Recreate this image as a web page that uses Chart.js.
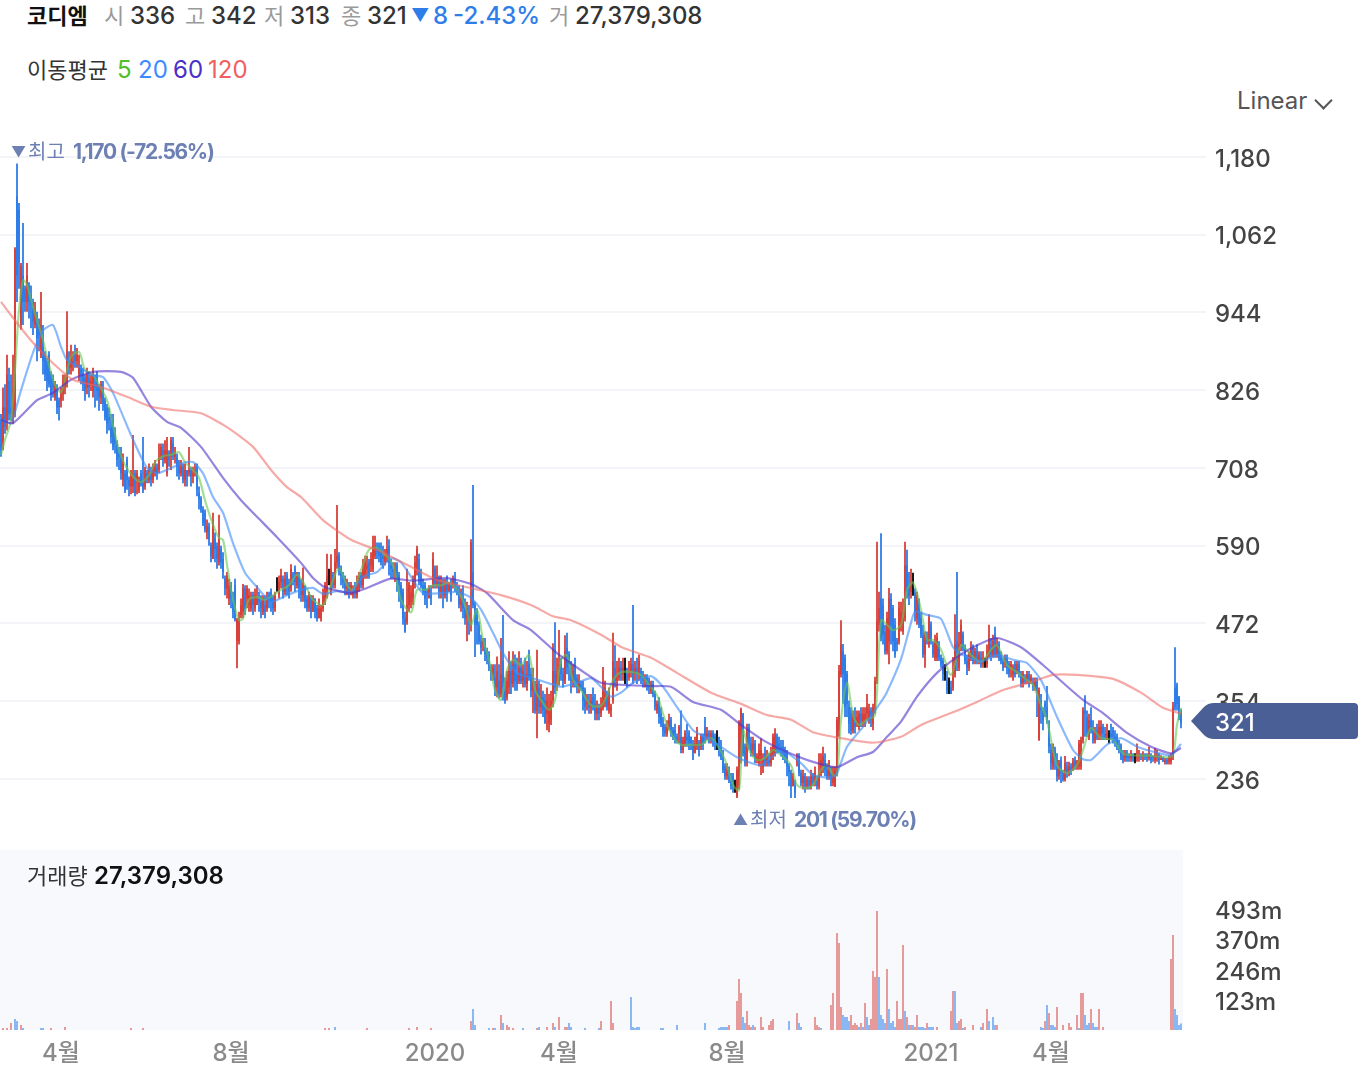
<!DOCTYPE html>
<html lang="ko">
<head>
<meta charset="utf-8">
<title>코디엠</title>
<script src="https://cdn.jsdelivr.net/npm/chart.js@4/dist/chart.umd.js"></script>
<style>
  html, body { margin: 0; padding: 0; background: #fff; }
  body { width: 1366px; height: 1074px; position: relative; overflow: hidden;
         font-family: Inter, "Noto Sans CJK KR", sans-serif; font-size: 24px; color: #333; }
  canvas { position: absolute; left: 0; }
  .t { position: absolute; white-space: nowrap; line-height: 30px; font-weight: 500; z-index: 2; }
  .k { font-size: 22px; }
  .g { color: #9a9a9a; font-weight: 400; font-size: 22px; }
  .b { color: #2f7de8; }
  .mark { color: #6d80b4; font-size: 20px; font-weight: 400; }
  .markv { color: #6d80b4; font-size: 21px; font-weight: 700; letter-spacing: -1.3px; }
  #chev { position: absolute; left: 1317px; top: 94px; width: 11px; height: 11px;
          border-right: 2px solid #555; border-bottom: 2px solid #555; transform: rotate(45deg); }
</style>
</head>
<body>
<span class="t k" style="left:27px;top:1px;color:#111;font-weight:700">코디엠</span>
<span class="t g" style="left:104px;top:1px">시</span><span class="t" style="left:130px;top:1px">336</span>
<span class="t g" style="left:185px;top:1px">고</span><span class="t" style="left:211px;top:1px">342</span>
<span class="t g" style="left:264px;top:1px">저</span><span class="t" style="left:290px;top:1px">313</span>
<span class="t g" style="left:341px;top:1px">종</span><span class="t" style="left:367px;top:1px">321</span>
<span class="t b" style="left:411px;top:1px;font-size:18px">▼</span><span class="t b" style="left:433px;top:1px">8</span>
<span class="t b" style="left:453px;top:1px">-2.43%</span>
<span class="t g" style="left:549px;top:1px">거</span><span class="t" style="left:575px;top:1px">27,379,308</span>

<span class="t k" style="left:27px;top:55px;font-weight:400">이동평균</span>
<span class="t" style="left:117px;top:55px;font-weight:400;color:#4fbf2a">5</span>
<span class="t" style="left:138px;top:55px;font-weight:400;color:#3b8cff">20</span>
<span class="t" style="left:173px;top:55px;font-weight:400;color:#4a2fc8">60</span>
<span class="t" style="left:208px;top:55px;font-weight:400;color:#f06060">120</span>

<span class="t" style="left:1237px;top:86px;font-weight:400;color:#555">Linear</span>
<div id="chev"></div>

<span class="t mark" style="left:11px;top:137px;font-size:15px">▼</span>
<span class="t mark" style="left:28px;top:137px">최고</span>
<span class="t markv" style="left:73px;top:137px">1,170 (-72.56%)</span>
<span class="t mark" style="left:733px;top:805px;font-size:15px">▲</span>
<span class="t mark" style="left:750px;top:805px">최저</span>
<span class="t markv" style="left:794px;top:805px">201 (59.70%)</span>

<span class="t k" style="left:27px;top:861px;font-weight:400">거래량</span>
<span class="t" style="left:94px;top:861px;color:#111;font-weight:600">27,379,308</span>

<canvas id="price-chart" width="1366" height="700" style="top:140px"></canvas>
<canvas id="volume-chart" width="1366" height="224" style="top:850px"></canvas>

<script>
const priceTicks = [1180, 1062, 944, 826, 708, 590, 472, 354, 236];
const volumeTicks = [123, 246, 370, 493];
const monthDays = [30, 115, 217, 279, 363, 465, 525];
const monthLabels = ['4월', '8월', '2020', '4월', '8월', '2021', '4월'];
const lastClose = 321;

// one line = 10 trading days
const opens = [
  780,745,800,780,840,800,780,790,1120,1100,
  925,1000,980,960,985,970,960,925,940,930,
  880,905,880,870,880,850,845,815,830,810,
  810,820,830,840,870,860,865,880,870,850,
  860,850,845,830,845,835,825,835,850,830,
  815,825,810,800,785,770,780,760,745,730,
  730,690,700,720,690,680,680,700,690,675,
  700,685,680,700,690,700,690,700,710,705,
  725,735,720,700,730,725,745,725,725,715,
  700,710,690,705,700,705,695,700,710,670,
  660,645,640,610,620,590,570,600,590,565,
  585,570,540,525,510,530,505,530,445,445,
  485,490,525,510,500,495,515,495,500,510,
  505,490,500,495,515,520,510,495,530,515,
  535,540,520,545,535,525,545,555,530,545,
  525,515,530,510,495,515,490,510,495,480,
  480,495,505,520,540,525,545,530,565,575,
  555,545,540,525,530,520,515,530,515,525,
  545,530,545,555,565,560,555,575,585,590,
  580,575,565,570,590,560,555,545,560,545,
  530,520,480,475,500,505,510,530,555,570,
  545,530,530,520,510,515,530,555,530,540,
  520,535,515,535,520,530,530,540,525,520,
  500,510,495,480,490,525,550,500,485,470,
  445,440,440,430,425,405,395,390,375,385,
  365,415,370,360,375,400,380,410,395,385,
  405,385,395,380,410,395,370,370,340,375,
  345,360,355,335,320,325,355,400,380,385,
  410,395,385,435,425,405,385,405,390,375,
  380,375,370,350,355,345,360,350,335,345,
  335,345,350,365,340,340,355,405,385,390,
  405,395,395,395,390,400,410,395,405,395,
  400,395,385,390,385,370,380,365,340,355,
  335,320,315,305,315,325,310,310,300,305,
  300,280,290,300,305,300,290,275,285,290,
  285,300,315,300,305,295,305,300,295,290,
  285,270,255,240,250,235,240,225,210,225,
  265,335,285,260,315,290,280,290,265,260,
  265,255,275,260,265,260,270,275,300,290,
  285,285,280,275,255,245,225,225,260,265,
  245,230,240,225,235,225,240,230,235,225,
  245,255,265,250,240,245,230,225,245,310,
  395,430,420,395,345,340,310,330,320,315,
  335,320,320,335,325,340,320,340,385,470,
  510,500,460,430,445,510,495,470,445,445,
  470,460,480,560,530,520,530,520,480,505,
  480,455,425,450,440,470,440,420,420,440,
  420,415,395,385,375,375,375,395,445,405,
  440,455,435,415,405,420,435,415,430,415,
  420,410,415,410,425,440,425,455,425,440,
  425,415,410,420,410,405,395,410,400,410,
  395,380,390,385,395,385,385,375,385,295,
  355,340,350,345,315,280,255,280,265,240,
  265,245,235,255,245,255,250,265,255,255,
  255,295,340,330,300,325,310,295,310,300,
  305,315,305,300,300,305,310,300,300,285,
  285,270,268,275,272,268,272,270,268,270,
  272,270,272,270,268,272,270,265,268,272,
  265,268,262,265,262,262,270,375,378,360,
  336
];
const closes = [
  735,800,770,850,790,790,830,1040,1000,1020,
  1015,960,960,1000,960,955,930,950,905,905,
  925,870,850,840,835,820,830,835,800,800,
  820,840,845,885,860,880,870,870,880,860,
  850,835,825,850,830,840,850,830,825,815,
  835,805,785,775,780,755,740,745,720,725,
  700,720,675,690,680,700,695,670,700,690,
  685,675,705,690,705,690,705,710,700,725,
  740,720,735,735,720,750,725,730,710,700,
  710,690,705,695,705,695,700,705,675,660,
  645,625,615,620,600,575,625,585,570,600,
  565,550,525,545,530,510,490,478,480,478,
  500,525,495,525,515,510,500,515,510,505,
  495,510,490,510,505,505,495,515,530,535,
  545,520,540,530,520,555,540,535,545,525,
  515,535,505,495,515,490,510,490,480,495,
  495,515,530,545,540,555,530,565,575,555,
  545,535,525,530,520,530,520,520,530,545,
  530,555,565,560,545,570,590,590,580,575,
  565,570,575,585,565,555,550,555,540,530,
  505,480,460,500,530,520,540,565,585,540,
  530,520,510,515,525,510,570,530,540,520,
  535,515,530,520,530,515,540,525,520,500,
  510,495,480,495,470,595,500,470,470,445,
  435,445,425,420,405,395,405,375,400,365,
  395,375,355,385,400,380,410,385,380,405,
  385,400,380,395,390,370,385,340,380,345,
  360,340,320,355,345,355,400,375,395,410,
  395,385,430,405,410,385,400,385,375,385,
  375,355,345,360,345,355,345,335,345,335,
  345,375,375,345,365,345,415,385,395,405,
  395,405,395,385,400,410,385,405,395,415,
  390,385,390,380,375,380,365,345,350,330,
  320,310,305,315,325,310,300,305,295,315,
  280,295,305,295,290,290,275,290,305,280,
  300,290,300,305,300,305,295,290,295,280,
  270,250,240,250,235,225,225,225,250,320,
  340,275,260,310,290,275,290,265,270,280,
  280,265,260,270,260,275,300,305,280,285,
  280,275,270,255,245,225,240,215,265,245,
  230,240,225,235,225,240,230,245,225,245,
  265,270,250,240,255,235,245,250,325,400,
  440,395,345,350,320,310,335,315,330,335,
  325,335,335,345,340,325,345,385,475,495,
  450,455,430,480,510,470,445,425,440,495,
  490,480,560,520,515,535,530,490,515,470,
  455,425,455,445,480,445,425,445,450,420,
  410,395,395,370,375,365,390,440,415,440,
  470,435,415,405,425,435,415,430,415,425,
  410,420,415,430,450,425,445,425,440,420,
  415,405,420,405,395,410,405,395,410,395,
  380,395,385,395,380,390,375,385,370,370,
  340,325,345,325,285,260,285,265,240,260,
  245,235,260,245,255,250,262,255,262,290,
  295,340,335,305,325,310,295,310,300,315,
  315,305,300,305,300,300,300,295,285,280,
  270,265,275,268,268,272,268,270,270,272,
  270,272,270,268,272,265,268,272,272,265,
  268,262,265,260,268,270,345,345,350,329,
  321
];
const highs = [
  790,830,835,880,860,850,880,1043,1170,1110,
  1019,1080,985,1019,990,985,965,960,945,935,
  975,925,885,875,885,855,850,840,835,815,
  830,850,850,946,885,895,885,895,890,880,
  865,860,850,860,855,850,860,850,855,835,
  840,840,815,805,800,790,790,770,750,740,
  740,730,705,725,695,705,758,705,705,695,
  705,755,710,705,715,710,715,720,715,745,
  745,745,750,755,735,755,755,740,730,720,
  720,715,715,705,740,710,710,715,715,680,
  665,650,645,630,625,595,640,610,595,637,
  590,580,545,550,540,535,520,540,480,490,
  510,532,530,530,525,520,520,525,530,520,
  515,515,515,520,520,525,515,520,542,545,
  555,545,550,550,540,562,550,560,550,550,
  540,557,520,515,520,515,515,510,500,510,
  500,525,535,578,555,577,550,585,652,580,
  560,550,545,540,535,535,530,535,545,550,
  550,570,575,575,570,580,605,605,595,595,
  595,590,585,605,600,570,565,565,565,550,
  535,525,490,555,535,530,545,575,590,578,
  555,540,535,525,530,530,580,560,560,545,
  545,540,540,545,535,540,545,550,535,530,
  525,530,510,505,500,600,682,505,495,475,
  455,450,450,435,430,410,410,410,422,410,
  450,485,390,400,430,415,430,425,420,430,
  420,410,420,415,432,405,405,385,432,385,
  380,370,365,375,365,370,442,474,420,462,
  420,405,454,458,430,415,410,420,395,395,
  385,385,375,365,365,365,375,365,355,350,
  360,406,385,370,375,350,458,439,415,420,
  415,420,420,405,415,420,500,415,420,425,
  405,400,395,395,390,385,385,370,355,360,
  345,330,320,325,335,330,315,320,305,318,
  340,300,310,320,310,300,295,300,315,295,
  305,305,330,315,310,310,310,305,310,300,
  295,280,260,260,255,245,245,235,255,325,
  344,336,290,320,320,300,300,295,275,290,
  298,275,285,280,275,285,305,313,305,300,
  295,295,285,280,260,250,245,235,275,275,
  250,250,245,240,240,250,245,255,240,275,
  275,285,275,260,265,255,255,255,330,409,
  477,441,425,400,355,345,340,345,340,340,
  345,345,345,365,350,345,350,391,596,520,
  609,510,470,490,526,518,500,480,450,505,
  505,510,596,584,550,555,549,525,520,510,
  490,470,460,460,486,475,445,455,458,445,
  425,420,410,400,390,385,421,486,550,459,
  478,460,440,425,430,445,440,435,440,430,
  430,430,420,440,470,450,455,467,450,445,
  430,420,425,425,415,415,410,415,415,415,
  400,400,395,400,400,395,390,390,390,375,
  365,345,355,377,325,290,290,285,275,265,
  270,250,271,262,262,260,268,270,265,295,
  300,345,363,340,335,345,325,315,320,325,
  325,320,315,320,310,320,315,310,305,295,
  290,280,280,280,275,280,275,275,290,280,
  275,278,275,275,285,275,272,283,280,275,
  272,270,268,268,272,275,353,436,382,362,
  342
];
const lows = [
  725,735,760,765,780,780,775,785,960,980,
  918,925,945,945,935,920,910,920,870,885,
  875,850,840,825,830,810,815,810,790,780,
  800,810,820,830,850,850,855,860,860,840,
  835,825,810,820,815,825,815,800,810,795,
  805,795,780,760,765,745,735,730,710,705,
  690,680,670,675,665,668,670,665,668,670,
  680,670,675,685,685,680,685,695,690,700,
  720,710,715,695,710,705,720,715,695,690,
  695,685,680,680,695,680,685,695,665,645,
  640,620,610,600,590,565,570,565,555,560,
  555,540,515,510,500,495,480,475,404,440,
  480,480,485,495,490,490,485,490,500,490,
  480,485,480,490,495,490,485,490,520,510,
  525,510,515,515,510,520,530,520,525,510,
  505,505,495,490,490,480,490,480,475,480,
  475,490,500,510,530,515,525,525,555,545,
  530,525,515,515,510,515,510,510,510,520,
  525,525,540,540,540,550,550,570,570,565,
  560,555,560,565,545,540,540,535,520,505,
  495,470,458,470,490,495,500,525,545,530,
  525,515,500,495,515,500,525,525,525,510,
  510,495,510,505,520,505,525,520,515,495,
  490,480,470,445,455,460,495,421,440,440,
  425,430,415,410,400,385,385,362,360,358,
  360,355,350,355,365,365,375,370,370,380,
  380,375,375,370,385,360,336,335,298,335,
  335,330,328,310,307,318,345,365,370,378,
  385,375,380,395,385,366,375,375,366,366,
  370,340,335,340,335,335,340,325,325,325,
  330,340,345,340,335,330,350,375,370,385,
  385,385,380,375,385,390,380,385,380,385,
  380,375,375,370,365,365,360,340,335,320,
  315,300,300,300,310,300,295,290,290,290,
  275,275,285,285,280,280,265,275,280,270,
  280,280,290,295,290,290,285,280,280,270,
  265,245,235,235,230,220,215,215,207,220,
  260,270,255,255,280,270,270,260,260,255,
  242,245,255,255,255,255,265,270,275,275,
  270,265,260,240,225,207,225,207,255,240,
  225,220,215,220,220,220,225,225,220,220,
  240,245,240,235,235,225,225,224,240,300,
  390,350,330,330,305,303,305,305,315,310,
  315,315,315,325,320,315,310,335,380,460,
  445,440,425,425,410,440,430,420,430,440,
  460,455,475,510,500,510,514,475,470,465,
  450,420,405,440,435,440,420,415,415,415,
  405,385,385,365,365,368,370,390,400,400,
  430,430,410,394,400,415,410,410,410,410,
  405,405,405,405,420,415,420,420,420,415,
  410,400,405,395,390,390,385,390,395,390,
  375,375,380,380,375,380,370,370,330,294,
  320,310,330,320,275,250,250,250,232,235,
  230,232,232,238,240,242,248,250,250,250,
  250,290,300,300,295,305,290,290,295,295,
  295,295,295,295,290,295,290,285,280,275,
  265,260,262,262,262,262,262,260,262,262,
  265,262,265,262,264,260,262,260,262,258,
  265,262,258,258,258,258,265,340,340,325,
  313
];

const ma5Days = [0,2,5,7,9,11,13,15,18,21,24,27,30,32,35,39,42,46,50,53,56,59,62,66,70,74,77,81,85,89,92,96,99,102,106,109,111,113,116,119,121,124,128,132,136,140,144,148,152,156,161,165,169,173,176,180,184,188,192,196,200,205,208,212,216,220,224,228,232,235,238,241,244,247,250,253,256,260,264,267,270,274,277,280,283,286,290,295,300,303,306,310,316,320,324,328,332,336,340,345,350,355,358,362,366,369,371,374,378,382,386,390,395,398,402,406,410,413,416,418,420,423,426,429,433,437,440,443,446,450,453,456,460,463,466,470,475,480,485,490,495,498,503,508,513,516,520,523,528,533,538,541,545,550,556,561,566,575,583,586,588,590];
const ma5Values = [728,751,781,857,948,993,986,963,933,902,864,834,823,842,877,884,857,849,829,811,773,735,713,695,687,697,717,726,728,732,717,705,693,659,622,602,599,561,508,477,480,508,512,508,515,523,530,546,530,508,500,530,556,530,523,553,584,587,576,561,508,489,523,523,530,530,534,523,500,470,493,447,417,371,356,401,417,409,424,371,356,341,356,417,424,386,371,348,347,363,386,398,398,394,379,363,326,300,288,288,288,298,288,265,227,219,310,280,265,268,280,272,257,227,222,227,250,257,242,242,326,382,333,318,326,333,477,470,462,470,523,534,493,447,447,432,394,439,424,414,432,439,409,398,386,379,348,325,257,245,257,280,313,298,295,275,272,271,269,272,318,344];
const ma20Days = [0,5,10,16,21,26,30,33,40,45,51,56,66,73,78,85,91,96,101,106,111,116,122,128,135,143,150,156,161,168,175,181,188,195,200,205,211,220,228,235,240,246,251,258,266,273,280,288,295,300,305,310,316,325,331,338,346,355,368,380,390,400,406,415,418,423,431,440,443,450,455,457,463,470,476,481,490,498,506,513,520,528,536,541,545,553,560,568,578,585,590];
const ma20Values = [781,776,826,883,917,925,892,872,860,849,846,822,751,708,700,708,716,717,700,664,640,594,549,527,505,515,523,526,517,521,520,543,550,571,565,543,518,518,520,511,493,458,427,397,389,382,376,382,389,376,361,367,382,392,376,345,310,295,269,257,280,260,242,238,245,285,315,353,368,418,473,490,485,479,436,424,414,424,417,412,386,330,280,266,265,288,298,285,276,272,289];
const ma60Days = [0,6,18,26,35,46,60,66,75,83,90,100,111,120,128,138,150,156,162,175,183,195,206,223,235,243,256,265,278,290,300,310,325,335,346,360,370,381,393,406,418,428,436,443,450,458,468,478,488,498,510,521,531,541,551,563,575,585,590];
const ma60Values = [781,776,811,822,842,854,854,845,801,778,769,740,693,659,634,603,564,541,527,518,526,540,537,541,532,518,477,462,427,401,382,379,377,376,353,341,318,295,277,262,254,269,277,300,323,361,397,421,439,450,436,409,382,356,336,306,285,275,283];
const ma120Days = [0,8,16,26,36,50,63,75,86,100,113,126,135,143,150,161,175,190,205,218,233,250,265,276,285,300,311,325,338,355,370,383,395,406,420,436,450,460,475,488,501,515,526,538,556,570,581,590];
const ma120Values = [960,928,898,867,842,831,816,801,796,791,770,740,705,679,664,629,599,581,558,538,527,515,500,483,477,455,435,420,397,367,350,333,326,307,298,291,300,318,336,353,371,383,394,394,388,367,344,335];

// volume in millions, only days with a visible bar
const upVolumeDays = [1,3,5,10,25,32,65,71,162,164,183,204,208,215,235,246,250,253,254,256,268,273,276,279,282,283,300,305,306,364,368,369,370,373,374,375,377,380,381,384,385,386,398,407,408,409,415,416,418,419,420,425,426,427,428,430,432,435,436,437,438,443,448,449,450,451,453,455,457,458,463,468,475,476,479,480,482,486,491,493,498,522,524,528,531,534,535,538,540,541,545,549,551,585,586];
const upVolumeValues = [8,8,29,20,8,12,8,8,8,8,8,8,12,8,37,8,62,20,12,8,8,12,29,53,12,12,37,119,29,20,119,209,152,78,20,12,12,53,12,20,37,45,70,53,20,12,103,152,398,357,94,62,20,29,20,29,111,45,242,217,488,250,119,45,45,349,53,20,12,62,29,12,78,160,37,45,12,20,29,86,20,37,70,94,20,29,12,62,152,152,86,86,12,291,390];
const downVolumeDays = [7,8,11,20,21,167,236,237,244,247,251,261,269,277,284,285,292,299,315,316,317,318,319,330,331,338,352,359,360,361,362,363,371,372,376,394,399,400,410,421,422,423,424,429,431,433,434,439,440,441,442,444,445,446,447,452,454,456,459,460,461,462,464,465,466,477,478,481,490,494,496,497,520,521,523,525,526,527,539,542,543,544,546,547,548,587,588,589,590];
const downVolumeValues = [45,37,8,8,8,12,86,20,8,8,29,8,12,12,29,12,8,8,135,12,8,12,12,8,8,20,29,8,12,12,12,12,53,29,20,37,29,12,8,62,53,53,37,12,12,53,20,217,62,45,29,86,29,37,12,78,20,20,12,12,12,8,12,12,12,160,29,8,12,37,53,20,12,8,103,20,20,12,8,62,20,29,29,12,12,86,62,20,27];

const RED = '#d9403a';
const BLUE = '#2f7de8';
const tickFont = { family: 'Inter, "Noto Sans CJK KR", sans-serif', size: 24, weight: '500' };
// y labels sit a little low: second line of a 5px line height moves them 2.5px down
const yTickFont = { ...tickFont, lineHeight: '5px' };

const candleColor = (o, c) => (c > o ? RED : c < o ? BLUE : '#000');
const candleColors = opens.map((o, i) => candleColor(o, closes[i]));

const maLine = (label, days, values, color, width, tension) => ({
  type: 'line',
  label,
  data: days.map((d, i) => ({ x: d, y: values[i] })),
  borderColor: color,
  borderWidth: width,
  pointRadius: 0,
  tension,
  order: 1
});

// no room kept for half a tick label above and below the plot
const noLabelPadding = ax => { ax.paddingTop = 0; ax.paddingBottom = 0; ax.paddingLeft = 0; ax.paddingRight = 0; };

// flag with the last close, sits over the axis labels
const lastPriceFlag = {
  id: 'lastPriceFlag',
  afterDraw(chart) {
    const ctx = chart.ctx;
    const mid = chart.scales.y.getPixelForValue(lastClose) - 2;
    ctx.save();
    ctx.fillStyle = '#4a5f96';
    ctx.beginPath();
    ctx.moveTo(1191, mid);
    ctx.lineTo(1204, mid - 14);
    ctx.quadraticCurveTo(1208, mid - 18, 1214, mid - 18);
    ctx.lineTo(1354, mid - 18);
    ctx.quadraticCurveTo(1358, mid - 18, 1358, mid - 14);
    ctx.lineTo(1358, mid + 14);
    ctx.quadraticCurveTo(1358, mid + 18, 1354, mid + 18);
    ctx.lineTo(1214, mid + 18);
    ctx.quadraticCurveTo(1208, mid + 18, 1204, mid + 14);
    ctx.closePath();
    ctx.fill();
    ctx.fillStyle = '#fff';
    ctx.font = '500 24px Inter, sans-serif';
    ctx.textBaseline = 'middle';
    ctx.fillText(String(lastClose), 1215, mid + 3);
    ctx.restore();
  }
};

const panelBackground = {
  id: 'panelBackground',
  beforeDraw(chart) {
    const { ctx, chartArea: a } = chart;
    ctx.fillStyle = '#f8f9fd';
    ctx.fillRect(a.left, a.top, a.right - a.left, a.bottom - a.top);
  }
};

new Chart(document.getElementById('price-chart'), {
  type: 'bar',
  data: {
    datasets: [
      maLine('120', ma120Days, ma120Values, 'rgba(239,100,95,0.55)', 2.2, 0.2),
      maLine('60', ma60Days, ma60Values, 'rgba(80,50,200,0.6)', 2.2, 0.2),
      maLine('20', ma20Days, ma20Values, 'rgba(60,140,250,0.6)', 2.2, 0.2),
      maLine('5', ma5Days, ma5Values, 'rgba(100,200,80,0.6)', 2.2, 0.3),
      {
        label: 'wick',
        data: highs.map((h, i) => ({ x: i, y: [lows[i], h] })),
        backgroundColor: candleColors,
        barThickness: 1.8,
        grouped: false,
        inflateAmount: 0,
        order: 3
      },
      {
        label: 'body',
        data: opens.map((o, i) => ({ x: i, y: [o, closes[i]] })),
        backgroundColor: candleColors,
        barThickness: 2,
        grouped: false,
        inflateAmount: 0,
        order: 2
      }
    ]
  },
  options: {
    responsive: false,
    animation: false,
    events: [],
    layout: { padding: 0 },
    plugins: { legend: { display: false }, tooltip: { enabled: false } },
    scales: {
      x: { type: 'linear', offset: false, min: -0.5, max: 602.5, display: false },
      y: {
        position: 'right',
        min: 143.4,
        max: 1205.8,
        border: { display: false },
        grid: { color: '#f3f4f8', lineWidth: 2, drawTicks: false },
        ticks: {
          color: '#444',
          font: yTickFont,
          padding: 9,
          crossAlign: 'near',
          autoSkip: false,
          callback: v => ['', v.toLocaleString('en-US')]
        },
        afterBuildTicks: ax => { ax.ticks = priceTicks.map(v => ({ value: v })); },
        afterFit: ax => { ax.width = 160; noLabelPadding(ax); }
      }
    }
  },
  plugins: [lastPriceFlag]
});

new Chart(document.getElementById('volume-chart'), {
  type: 'bar',
  data: {
    datasets: [
      {
        label: 'up',
        data: upVolumeDays.map((d, i) => ({ x: d, y: upVolumeValues[i] })),
        backgroundColor: '#e79a9a',
        barThickness: 2,
        grouped: false,
        inflateAmount: 0
      },
      {
        label: 'down',
        data: downVolumeDays.map((d, i) => ({ x: d, y: downVolumeValues[i] })),
        backgroundColor: '#8ab8f5',
        barThickness: 2,
        grouped: false,
        inflateAmount: 0
      }
    ]
  },
  options: {
    responsive: false,
    animation: false,
    events: [],
    layout: { padding: 0 },
    plugins: { legend: { display: false }, tooltip: { enabled: false } },
    scales: {
      x: {
        type: 'linear',
        offset: false,
        min: -0.5,
        max: 591,
        border: { display: false },
        grid: { display: false },
        ticks: {
          color: '#8a8a8a',
          font: tickFont,
          padding: 1,
          maxRotation: 0,
          autoSkip: false,
          callback: v => monthLabels[monthDays.indexOf(v)]
        },
        afterBuildTicks: ax => { ax.ticks = monthDays.map(v => ({ value: v })); },
        afterFit: ax => { ax.height = 44; noLabelPadding(ax); }
      },
      y: {
        position: 'right',
        min: 0,
        max: 738,
        border: { display: false },
        grid: { display: false, drawTicks: false },
        ticks: {
          color: '#444',
          font: yTickFont,
          padding: 32,
          crossAlign: 'near',
          autoSkip: false,
          callback: v => ['', `${v}m`]
        },
        afterBuildTicks: ax => { ax.ticks = volumeTicks.map(v => ({ value: v })); },
        afterFit: ax => { ax.width = 183; noLabelPadding(ax); }
      }
    }
  },
  plugins: [panelBackground]
});
</script>
</body>
</html>
